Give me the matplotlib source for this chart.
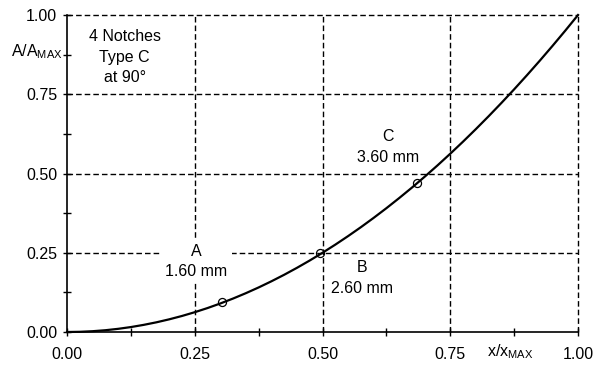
import matplotlib
matplotlib.use('Agg')
import matplotlib.pyplot as plt
from matplotlib.ticker import MultipleLocator

plt.rcParams['font.family'] = ['Liberation Sans', 'DejaVu Sans']
plt.rcParams['mathtext.fontset'] = 'custom'
plt.rcParams['mathtext.rm'] = 'Liberation Sans'

# curve
x = [0.0, 0.025, 0.05, 0.075, 0.1, 0.125, 0.15, 0.175, 0.2, 0.225, 0.25,
     0.275, 0.3, 0.325, 0.35, 0.375, 0.4, 0.425, 0.45, 0.475, 0.5,
     0.525, 0.55, 0.575, 0.6, 0.625, 0.65, 0.675, 0.7, 0.725, 0.75,
     0.775, 0.8, 0.825, 0.85, 0.875, 0.9, 0.925, 0.95, 0.975, 1.0]
y = [0.0, 0.0006, 0.0025, 0.0056, 0.01, 0.0156, 0.0225, 0.0306, 0.04, 0.0506, 0.0625,
     0.0756, 0.09, 0.1056, 0.1225, 0.1406, 0.16, 0.1806, 0.2025, 0.2256, 0.25,
     0.2756, 0.3025, 0.3306, 0.36, 0.3906, 0.4225, 0.4556, 0.49, 0.5256, 0.5625,
     0.6006, 0.64, 0.6806, 0.7225, 0.7656, 0.81, 0.8556, 0.9025, 0.9506, 1.0]

# notch points
px = [0.303, 0.495, 0.685]
py = [0.094, 0.248, 0.47]
labels = ['A\n1.60 mm', 'B\n2.60 mm', 'C\n3.60 mm']
label_pos = [(0.253, 0.222), (0.577, 0.17), (0.628, 0.583)]

grid_vals = [0.25, 0.5, 0.75, 1.0]
fs = 11.5

fig = plt.figure(figsize=(5.99, 3.65), dpi=100)
ax = fig.add_axes([0.1119, 0.0904, 0.8531, 0.8685])

for g in grid_vals:
    ax.axhline(g, color='black', lw=1, ls=(0, (4, 2.2)), zorder=1, clip_on=False)
    ax.axvline(g, color='black', lw=1, ls=(0, (4, 2.2)), zorder=1, clip_on=False)

ax.plot(x, y, color='black', lw=1.6, zorder=3, clip_on=False)
ax.plot(px, py, 'o', ms=5.8, mfc='none', mec='black', mew=0.9, zorder=4)

for i, (lx, ly) in enumerate(label_pos):
    bbox = dict(facecolor='white', edgecolor='none', pad=3) if i == 0 else None
    ax.text(lx, ly, labels[i], ha='center', va='center', fontsize=fs,
            linespacing=1.45, bbox=bbox, zorder=5)

ax.text(0.113, 0.867, '4 Notches\nType C\nat 90°', ha='center', va='center',
        fontsize=fs, linespacing=1.45, zorder=5,
        bbox=dict(facecolor='white', edgecolor='none', pad=1))

ax.set_xlim(0, 1)
ax.set_ylim(0, 1)
ax.xaxis.set_major_locator(MultipleLocator(0.25))
ax.yaxis.set_major_locator(MultipleLocator(0.25))
ax.xaxis.set_minor_locator(MultipleLocator(0.125))
ax.yaxis.set_minor_locator(MultipleLocator(0.125))
ax.xaxis.set_major_formatter(lambda v, p: f'{v:.2f}')
ax.yaxis.set_major_formatter(lambda v, p: f'{v:.2f}')
ax.tick_params(which='both', direction='inout', length=6, width=1, labelsize=fs,
               top=False, right=False)
ax.tick_params(axis='x', pad=8)
ax.tick_params(axis='y', pad=4)

ax.spines['top'].set_visible(False)
ax.spines['right'].set_visible(False)
ax.spines['left'].set_linewidth(1.2)
ax.spines['bottom'].set_linewidth(1.2)

ax.text(-0.008, 0.883, r'A/A$_{\mathrm{MAX}}$', ha='right', va='center',
        fontsize=fs, transform=ax.transAxes)
ax.text(0.867, -0.063, r'x/x$_{\mathrm{MAX}}$', ha='center', va='center',
        fontsize=fs, transform=ax.transAxes)

fig.savefig('out.png', dpi=100)
